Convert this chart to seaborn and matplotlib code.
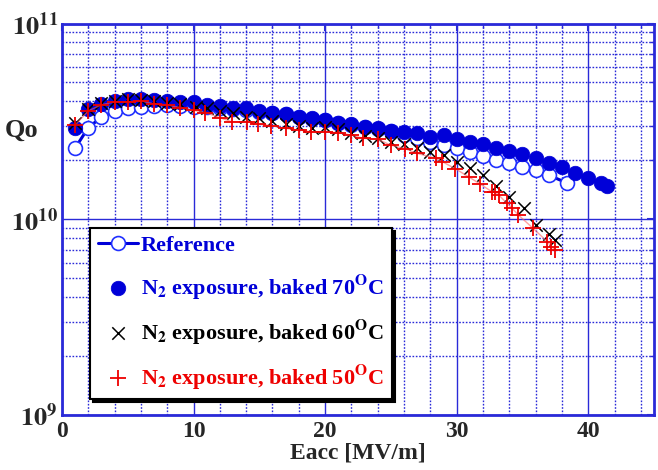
import numpy as np
import pandas as pd
import matplotlib
matplotlib.use("Agg")
import matplotlib.pyplot as plt
from matplotlib.ticker import FixedLocator, MultipleLocator, NullFormatter
import seaborn as sns

# Reference cavity test
ref_eacc = [1, 2, 3, 4, 5, 6, 7, 8, 9, 10, 11, 12, 13, 14, 15, 16, 17, 18, 19, 20,
            21, 22, 23, 24, 25, 26, 27, 28, 29, 30, 31, 32, 33, 34, 35, 36, 37, 38.4]
ref_q0 = [2.31e10, 2.94e10, 3.32e10, 3.58e10, 3.69e10, 3.76e10, 3.80e10, 3.82e10, 3.80e10, 3.76e10,
          3.73e10, 3.68e10, 3.64e10, 3.62e10, 3.55e10, 3.48e10, 3.44e10, 3.34e10, 3.27e10, 3.20e10,
          3.10e10, 3.03e10, 2.95e10, 2.88e10, 2.82e10, 2.69e10, 2.60e10, 2.49e10, 2.39e10, 2.30e10,
          2.20e10, 2.10e10, 2.01e10, 1.94e10, 1.85e10, 1.78e10, 1.68e10, 1.53e10]

# N2 exposure, baked 70 C
b70_eacc = [1, 2, 3, 4, 5, 6, 7, 8, 9, 10, 11, 12, 13, 14, 15, 16, 17, 18, 19, 20,
            21, 22, 23, 24, 25, 26, 27, 28, 29, 30, 31, 32, 33, 34, 35, 36, 37, 38, 39, 40, 41, 41.4]
b70_q0 = [2.94e10, 3.65e10, 3.88e10, 4.04e10, 4.11e10, 4.11e10, 4.06e10, 4.04e10, 3.95e10, 3.97e10,
          3.84e10, 3.81e10, 3.69e10, 3.69e10, 3.58e10, 3.51e10, 3.45e10, 3.34e10, 3.28e10, 3.23e10,
          3.11e10, 3.06e10, 2.95e10, 2.91e10, 2.83e10, 2.80e10, 2.75e10, 2.64e10, 2.68e10, 2.57e10,
          2.49e10, 2.42e10, 2.30e10, 2.23e10, 2.15e10, 2.05e10, 1.94e10, 1.84e10, 1.73e10, 1.62e10,
          1.53e10, 1.48e10]

# N2 exposure, baked 60 C
b60_eacc = [1, 2, 3, 4, 5, 6, 7, 8, 9, 10.2, 11, 12, 13, 14, 15, 16, 17, 18, 19, 20,
            21, 22, 23, 24, 25, 26, 27, 28, 29, 30, 31, 32, 33, 34, 35.1, 36, 37, 37.5]
b60_q0 = [3.09e10, 3.65e10, 3.91e10, 4.02e10, 4.10e10, 4.06e10, 4.00e10, 3.92e10, 3.88e10, 3.76e10,
          3.69e10, 3.57e10, 3.48e10, 3.34e10, 3.28e10, 3.18e10, 3.06e10, 3.01e10, 2.91e10, 2.95e10,
          2.88e10, 2.75e10, 2.66e10, 2.59e10, 2.49e10, 2.42e10, 2.32e10, 2.21e10, 2.12e10, 1.97e10,
          1.82e10, 1.68e10, 1.48e10, 1.30e10, 1.14e10, 0.934e10, 0.84e10, 0.78e10]

# N2 exposure, baked 50 C
b50_eacc = [1, 2, 3, 4, 5, 6, 7, 8, 9, 10, 10.9, 12, 12.9, 14.1, 14.9, 15.9, 17, 18, 18.9, 20,
            21, 22, 22.9, 24, 25, 26.1, 27, 28.4, 28.9, 29.9, 30.9, 31.8, 32.7, 32.9, 33.2, 33.8,
            34.2, 34.7, 35.8, 36.9, 37.2, 37.5]
b50_q0 = [3.03e10, 3.58e10, 3.84e10, 3.98e10, 3.98e10, 4.03e10, 3.88e10, 3.84e10, 3.72e10, 3.60e10,
          3.51e10, 3.30e10, 3.15e10, 3.15e10, 3.06e10, 3.01e10, 2.91e10, 2.86e10, 2.80e10, 2.79e10,
          2.77e10, 2.69e10, 2.59e10, 2.56e10, 2.39e10, 2.29e10, 2.17e10, 2.05e10, 1.97e10, 1.81e10,
          1.65e10, 1.51e10, 1.38e10, 1.38e10, 1.33e10, 1.21e10, 1.14e10, 1.05e10, 0.90e10, 0.767e10,
          0.723e10, 0.70e10]

labels = ["Reference",
          r"N$_2$ exposure, baked 70$^{\rm O}$C",
          r"N$_2$ exposure, baked 60$^{\rm O}$C",
          r"N$_2$ exposure, baked 50$^{\rm O}$C"]

x_ticks = [0, 10, 20, 30, 40]
y_ticks = [1e9, 1e10, 1e11]
y_ticklabels = [r"$\mathbf{10^{9}}$", r"$\mathbf{10^{10}}$", r"$\mathbf{10^{11}}$"]

sns.set_style("white")
plt.rcParams["font.family"] = ["Liberation Serif", "DejaVu Serif"]
plt.rcParams["font.weight"] = "bold"
plt.rcParams["mathtext.fontset"] = "stix"
plt.rcParams["mathtext.default"] = "bf"

BLUE = "#0000d8"
GRID = "#2a2ad8"

fig = plt.figure(figsize=(6.58, 4.70), dpi=100)
ax = fig.add_axes([62 / 658, 55 / 470, 592 / 658, 391.5 / 470])

ref = pd.DataFrame({"Eacc": ref_eacc, "Q0": ref_q0})
d70 = pd.DataFrame({"Eacc": b70_eacc, "Q0": b70_q0})
d60 = pd.DataFrame({"Eacc": b60_eacc, "Q0": b60_q0})
d50 = pd.DataFrame({"Eacc": b50_eacc, "Q0": b50_q0})

sns.lineplot(data=ref, x="Eacc", y="Q0", ax=ax, color=BLUE, lw=2.2, marker="o", ms=10,
             mfc="white", mec="#2030ff", mew=1.2, label=labels[0], sort=False, zorder=3)
sns.scatterplot(data=d70, x="Eacc", y="Q0", ax=ax, color=BLUE, marker="o", s=110,
                edgecolor=BLUE, linewidth=0.5, label=labels[1], zorder=4)
sns.scatterplot(data=d60, x="Eacc", y="Q0", ax=ax, color="black", marker="x", s=80,
                linewidth=1.1, label=labels[2], zorder=5)
sns.lineplot(data=d50, x="Eacc", y="Q0", ax=ax, color="#ff6060", lw=1.0, alpha=0.6,
             sort=False, zorder=5.5, legend=False)
sns.scatterplot(data=d50, x="Eacc", y="Q0", ax=ax, color="#ee0000", marker="+", s=140,
                linewidth=1.3, label=labels[3], zorder=6)

ax.set_yscale("log")
ax.set_xlim(0, 45)
ax.set_ylim(1e9, 1e11)

ax.xaxis.set_major_locator(FixedLocator(x_ticks))
ax.xaxis.set_minor_locator(MultipleLocator(2))
ax.set_xticklabels([str(t) for t in x_ticks])
ax.yaxis.set_major_locator(FixedLocator(y_ticks))
ax.set_yticklabels(y_ticklabels)
ax.yaxis.set_minor_locator(FixedLocator([m * 10 ** e for e in (9, 10) for m in range(2, 10)]))
ax.yaxis.set_minor_formatter(NullFormatter())

ax.grid(which="major", color=GRID, lw=1.0, ls="-")
ax.grid(which="minor", color=GRID, lw=1.0, ls=(0, (1.2, 1.2)))
ax.set_axisbelow(True)

for s in ax.spines.values():
    s.set_color(GRID)
    s.set_linewidth(2.0)

ax.tick_params(which="major", direction="in", length=5, width=1.5, color=GRID,
               top=True, right=True, pad=4)
ax.tick_params(which="minor", direction="in", length=3, width=1, color=GRID,
               top=True, right=True)
ax.tick_params(axis="x", labelsize=17)
ax.tick_params(axis="y", labelsize=19, pad=3)
for lab in ax.get_xticklabels():
    lab.set_fontweight("bold")

ax.set_xlabel("Eacc [MV/m]", fontsize=17, fontweight="bold", labelpad=1)
ax.set_ylabel("Qo", fontsize=19, fontweight="bold", rotation=0, va="center", ha="center")
ax.yaxis.set_label_coords(-0.068, 0.728)

handles, _ = ax.get_legend_handles_labels()
leg = ax.legend(handles, labels, loc="upper left", bbox_to_anchor=(0.047, 0.478),
                frameon=True, fancybox=False, edgecolor="black", framealpha=1,
                shadow={"color": "black", "alpha": 1}, prop={"size": 16, "weight": "bold"},
                handlelength=1.8, handletextpad=0.15, labelspacing=0.72,
                borderpad=0.35, borderaxespad=0)
leg.get_frame().set_linewidth(1.5)
for txt, c in zip(leg.get_texts(), [BLUE, BLUE, "black", "#ee0000"]):
    txt.set_color(c)

fig.savefig("out.png", dpi=100)
